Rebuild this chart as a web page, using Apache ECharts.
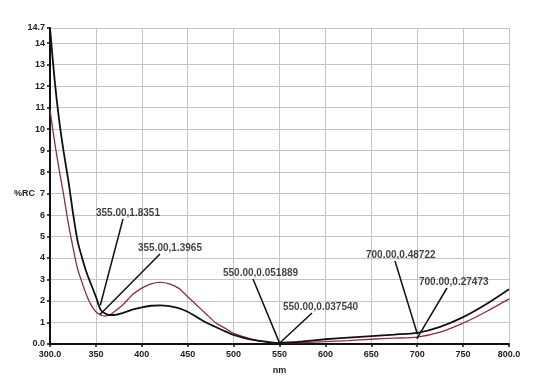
<!DOCTYPE html>
<html>
<head>
<meta charset="utf-8">
<script src="https://cdn.jsdelivr.net/npm/echarts@6/dist/echarts.min.js"></script>
<style>
html,body{margin:0;padding:0;background:#fff;}
#chart{width:550px;height:380px;}
</style>
</head>
<body>
<div id="chart"></div>
<script>
// Wavelength (nm)
const nm = [300,305,310,315,320,325,330,335,340,345,350,355,360,365,370,380,390,400,410,420,430,440,450,460,470,480,490,500,510,520,530,540,550,560,575,600,625,650,675,700,725,750,775,800];
// %RC, black curve
const blackRC = [14.7,12.3,10.4,8.9,7.6,6.1,4.8,4.0,3.3,2.75,2.2,1.6,1.42,1.35,1.35,1.45,1.6,1.7,1.78,1.8,1.76,1.67,1.5,1.25,1.0,0.8,0.6,0.42,0.3,0.2,0.13,0.08,0.052,0.07,0.12,0.22,0.3,0.37,0.44,0.52,0.8,1.25,1.85,2.55];
// %RC, red curve
const redRC = [10.9,9.4,8.1,6.9,5.6,4.5,3.5,2.85,2.25,1.8,1.5,1.35,1.3,1.35,1.5,1.85,2.3,2.6,2.8,2.87,2.8,2.6,2.2,1.8,1.4,1.0,0.75,0.5,0.35,0.22,0.13,0.07,0.038,0.05,0.07,0.11,0.16,0.22,0.27,0.32,0.55,0.97,1.5,2.1];
// Annotated points
const annX = [355,355,550,550,700,700];
const annY = [1.8351,1.3965,0.051889,0.037540,0.48722,0.27473];
const annText = ['355.00,1.8351','355.00,1.3965','550.00,0.051889','550.00,0.037540','700.00,0.48722','700.00,0.27473'];

// label placement (pixels) and leader-line start points
const labelPos = [[96,213],[138,248],[223,273],[283,307],[366,255],[419,282]];
const leaderStart = [[123,219],[160,254],[253,279],[312,313],[395,261],[447,288]];

const chart = echarts.init(document.getElementById('chart'));
const font = '"Liberation Sans", Arial, sans-serif';
chart.setOption({
  animation: false,
  backgroundColor: '#fff',
  grid: {left: 50, right: 41, top: 28, bottom: 35},
  xAxis: {
    type: 'value', min: 300, max: 800, interval: 50,
    axisLine: {lineStyle: {color: '#111', width: 2}},
    axisTick: {show: true, length: 3, lineStyle: {color: '#111', width: 1.5}},
    axisLabel: {color: '#222', fontFamily: font, fontWeight: 'bold', fontSize: 9, margin: 6,
      formatter: v => (v === 300 || v === 800) ? v.toFixed(1) : String(v)},
    splitLine: {show: true, lineStyle: {color: '#c4c4c4', width: 1}},
    name: 'nm', nameLocation: 'middle', nameGap: 22,
    nameTextStyle: {color: '#222', fontFamily: font, fontWeight: 'bold', fontSize: 9}
  },
  yAxis: {
    type: 'value', min: 0, max: 14.7, interval: 1,
    axisLine: {show: true, lineStyle: {color: '#111', width: 2}},
    axisTick: {show: true, length: 3, lineStyle: {color: '#111', width: 1.5}},
    axisLabel: {color: '#222', fontFamily: font, fontWeight: 'bold', fontSize: 9, margin: 5,
      showMaxLabel: true,
      formatter: v => {
        if (v === 0) return '0.0';
        if (Math.abs(v - 14.7) < 1e-6) return '14.7';
        if (v === 7) return '{n|%RC}  7';
        return String(v);
      },
      rich: {n: {color: '#222', fontFamily: font, fontWeight: 'bold', fontSize: 9}}
    },
    splitLine: {show: true, lineStyle: {color: '#c4c4c4', width: 1}}
  },
  series: [
    {
      type: 'line', data: nm.map((x, i) => [x, redRC[i]]), smooth: 0.25, symbol: 'none',
      lineStyle: {color: '#8a2f3c', width: 1.3}, z: 2
    },
    {
      type: 'line', data: nm.map((x, i) => [x, blackRC[i]]), smooth: 0.25, symbol: 'none',
      lineStyle: {color: '#111', width: 1.8}, z: 3
    },
    {
      type: 'scatter', data: annX.map((x, i) => [x, annY[i]]), symbolSize: 2,
      itemStyle: {color: '#111'}, z: 5,
      label: {show: true, position: 'top', color: '#111', fontFamily: font, fontWeight: 'bold', fontSize: 10,
        formatter: p => annText[p.dataIndex]},
      labelLayout: p => ({x: labelPos[p.dataIndex][0], y: labelPos[p.dataIndex][1], align: 'left', verticalAlign: 'middle', hideOverlap: false}),
      markLine: {
        silent: true, symbol: 'none', animation: false,
        label: {show: false},
        lineStyle: {color: '#111', width: 1.5, type: 'solid'},
        data: annX.map((x, i) => [{coord: [x, annY[i]]}, {x: leaderStart[i][0], y: leaderStart[i][1]}])
      }
    }
  ]
});
</script>
</body>
</html>
